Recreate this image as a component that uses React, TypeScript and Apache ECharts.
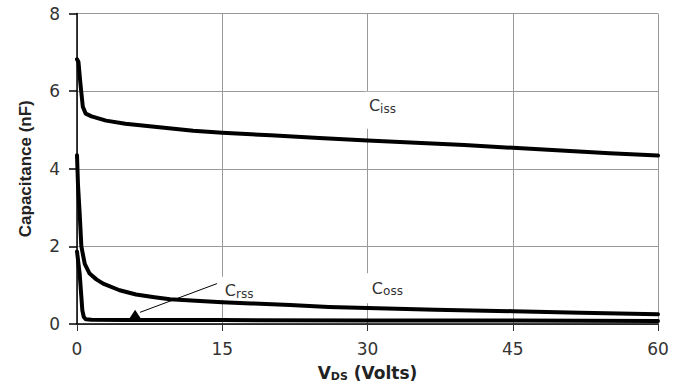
import React, { useEffect, useRef } from "react";
import * as echarts from "echarts";

// Drain-source voltage (V) and capacitance (nF) for each curve
const cissV = [0, 0.15, 0.35, 0.6, 0.9, 1.5, 3, 5, 8, 12, 15, 20, 25, 30, 35, 40, 45, 50, 55, 60];
const cissC = [6.82, 6.75, 6.2, 5.6, 5.42, 5.35, 5.24, 5.16, 5.08, 4.98, 4.93, 4.86, 4.79, 4.73, 4.67, 4.61, 4.54, 4.47, 4.4, 4.34];

const cossV = [0, 0.1, 0.28, 0.45, 0.8, 1.3, 2, 2.7, 4.4, 6.1, 8, 9.6, 12.7, 15, 18, 22, 26, 30, 37, 45, 52, 60];
const cossC = [4.35, 3.6, 2.83, 2.0, 1.55, 1.3, 1.15, 1.04, 0.87, 0.76, 0.69, 0.64, 0.59, 0.56, 0.53, 0.49, 0.44, 0.41, 0.37, 0.33, 0.29, 0.25];

const crssV = [0, 0.28, 0.45, 0.55, 0.7, 0.9, 1.5, 5, 15, 30, 45, 60];
const crssC = [1.87, 1.28, 0.7, 0.35, 0.18, 0.12, 0.11, 0.1, 0.1, 0.09, 0.09, 0.08];

const xTicks = [0, 15, 30, 45, 60];
const yTicks = [0, 2, 4, 6, 8];

const WIDE = "'DejaVu Sans', Verdana, sans-serif";
const NARROW = "Arial, 'Liberation Sans', sans-serif";

const pairs = (xs: number[], ys: number[]) => xs.map((x, i) => [x, ys[i]]);

const subRich = {
  c: { fontSize: 16, color: "#333", fontFamily: WIDE, lineHeight: 18 },
  s: { fontSize: 12, color: "#333", fontFamily: WIDE, lineHeight: 18, verticalAlign: "bottom" },
};

const curveLabel = (coord: number[], sub: string, padding: number[]) => ({
  coord,
  symbol: "circle",
  symbolSize: 1,
  itemStyle: { color: "rgba(0,0,0,0)" },
  label: {
    show: true,
    position: "right",
    distance: 0,
    formatter: `{c|C}{s|${sub}}`,
    backgroundColor: "#fff",
    padding,
    rich: subRich,
  },
});

export default function App() {
  const ref = useRef<HTMLDivElement>(null);

  useEffect(() => {
    document.body.style.margin = "0";
    if (!ref.current) return;
    const chart = echarts.init(ref.current, null, { renderer: "svg" });

    const lineStyle = { color: "#000", width: 4, join: "round", cap: "round" };

    const option = {
      animation: false,
      grid: { left: 77, right: 25, top: 13.5, bottom: 59.3, containLabel: false },
      xAxis: {
        type: "value",
        min: xTicks[0],
        max: xTicks[xTicks.length - 1],
        interval: xTicks[1] - xTicks[0],
        name: "{b|V}{s|DS}{b| (Volts)}",
        nameLocation: "middle",
        nameGap: 39,
        nameTextStyle: {
          rich: {
            b: { fontSize: 17, fontWeight: "bold", color: "#222", fontFamily: WIDE, lineHeight: 19 },
            s: { fontSize: 11, fontWeight: "bold", color: "#222", fontFamily: WIDE, lineHeight: 19, verticalAlign: "bottom" },
          },
        },
        axisLine: { lineStyle: { color: "#000", width: 1.5 } },
        axisTick: { show: true, length: 7, lineStyle: { color: "#333" } },
        axisLabel: { margin: 16, fontSize: 17, color: "#333", fontFamily: WIDE },
        splitLine: { show: true, lineStyle: { color: "#999", width: 1 } },
      },
      yAxis: {
        type: "value",
        min: yTicks[0],
        max: yTicks[yTicks.length - 1],
        interval: yTicks[1] - yTicks[0],
        name: "Capacitance (nF)",
        nameLocation: "middle",
        nameRotate: 90,
        nameGap: 43,
        nameTextStyle: { fontSize: 17, fontWeight: "bold", color: "#222", fontFamily: NARROW },
        axisLine: { lineStyle: { color: "#000", width: 1.5 } },
        axisTick: { show: true, length: 8, lineStyle: { color: "#000", width: 1.5 } },
        axisLabel: { margin: 17, align: "right", fontSize: 17, color: "#333", fontFamily: WIDE },
        splitLine: { show: true, lineStyle: { color: "#999", width: 1 } },
      },
      series: [
        {
          name: "Ciss",
          type: "line",
          data: pairs(cissV, cissC),
          showSymbol: false,
          lineStyle,
          markPoint: {
            silent: true,
            data: [curveLabel([29.68, 5.51], "iss", [5, 4, 14, 4])],
          },
        },
        {
          name: "Coss",
          type: "line",
          data: pairs(cossV, cossC),
          showSymbol: false,
          lineStyle,
          markPoint: {
            silent: true,
            data: [curveLabel([29.78, 0.92], "oss", [6, 4, 6, 6])],
          },
        },
        {
          name: "Crss",
          type: "line",
          data: pairs(crssV, crssC),
          showSymbol: false,
          lineStyle,
          markLine: {
            silent: true,
            symbol: ["none", "none"],
            label: { show: false },
            lineStyle: { color: "#000", width: 1, type: "solid" },
            data: [[{ coord: [14.45, 1.04] }, { coord: [6.5, 0.3] }]],
          },
          markPoint: {
            silent: true,
            data: [
              curveLabel([14.8, 0.92], "rss", [5, 4, 0, 4]),
              {
                coord: [6.0, 0.24],
                symbol: "triangle",
                symbolSize: [13, 10],
                itemStyle: { color: "#000" },
                label: { show: false },
              },
            ],
          },
        },
      ],
    };

    chart.setOption(option as any);
    return () => chart.dispose();
  }, []);

  return <div ref={ref} style={{ width: 683, height: 387 }} />;
}
